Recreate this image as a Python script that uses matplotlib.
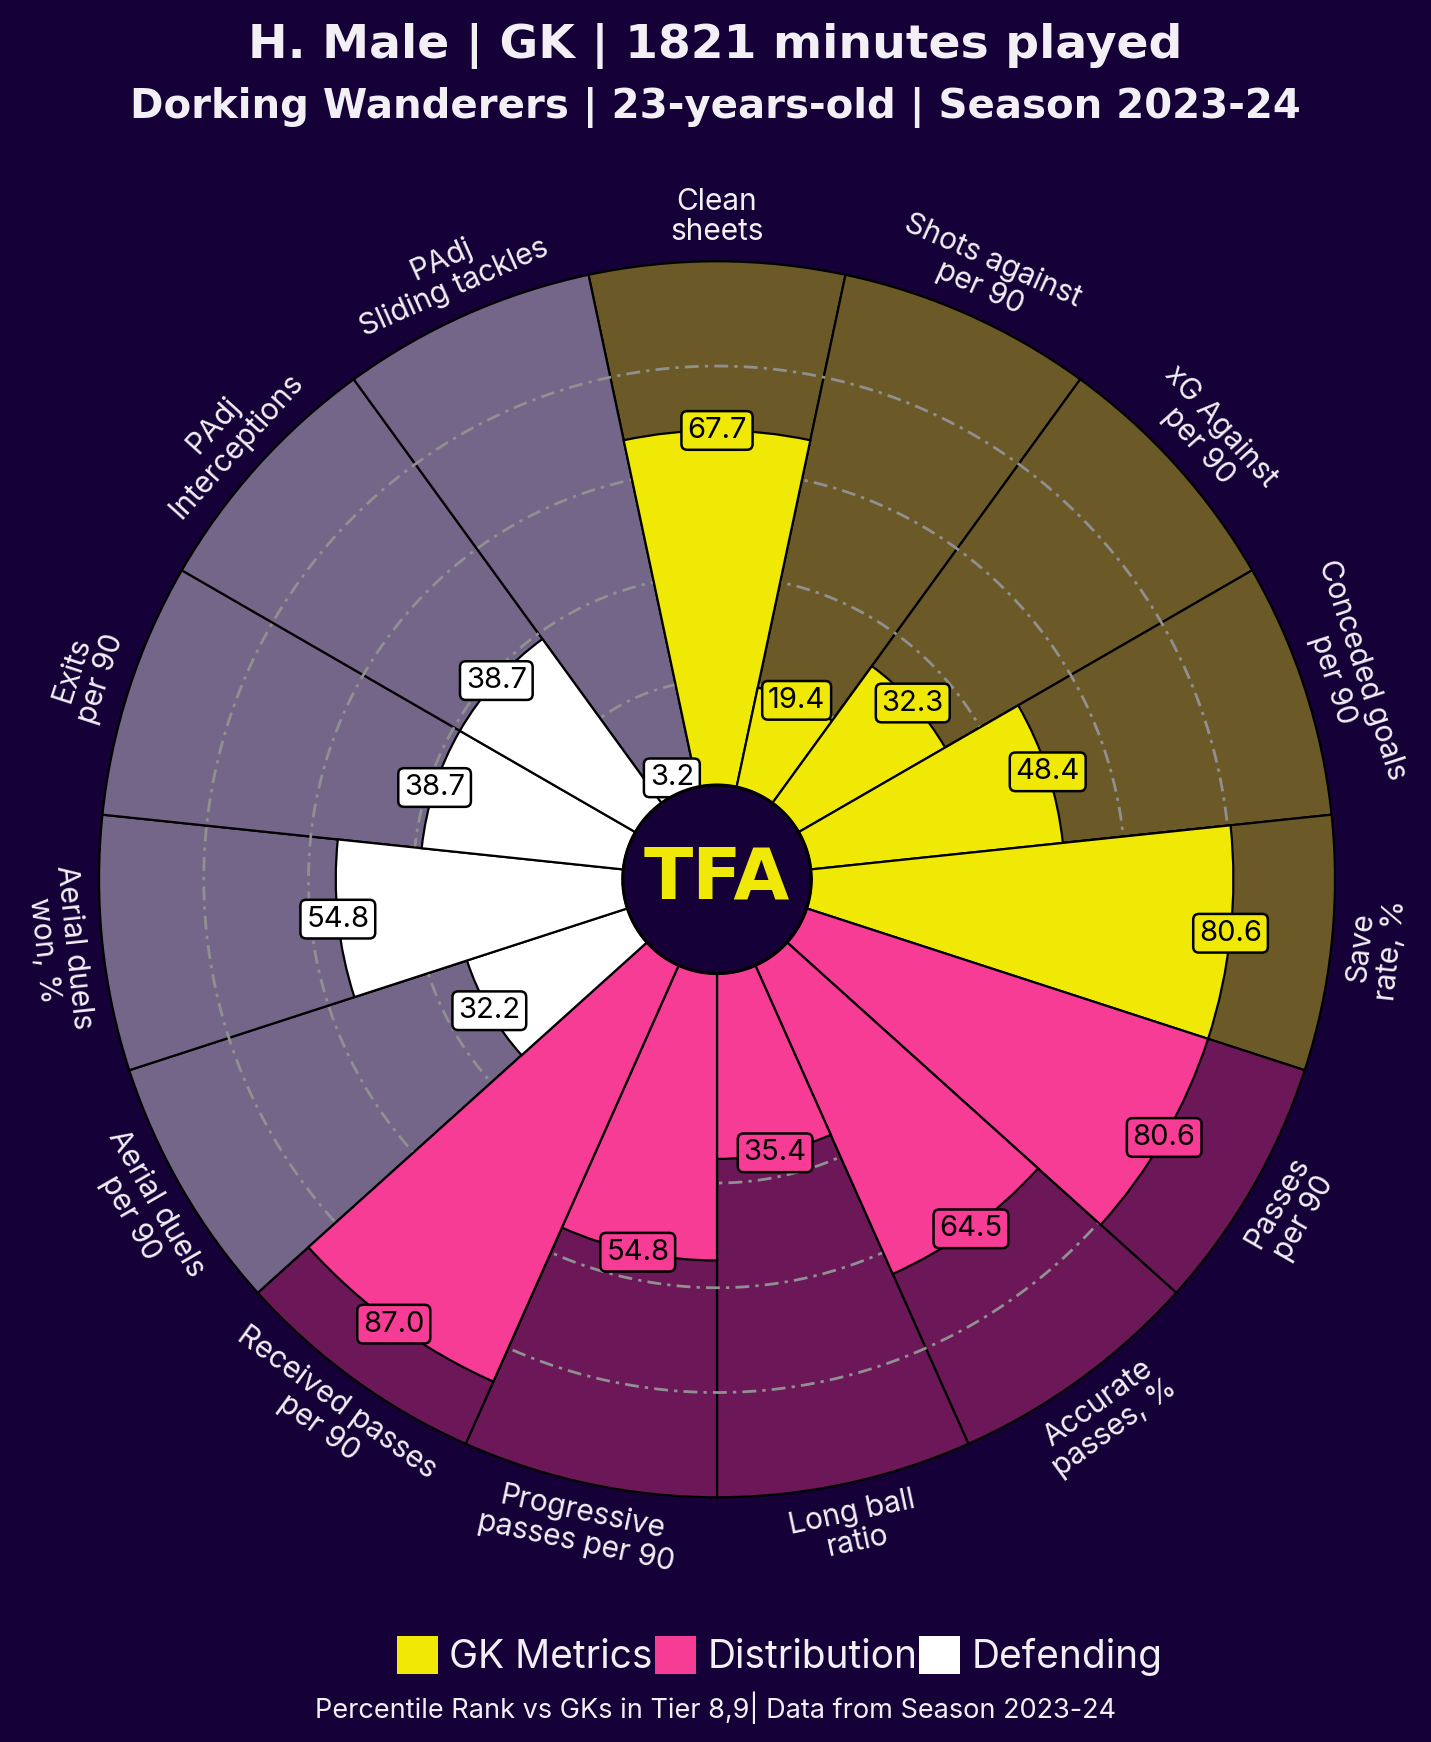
import matplotlib.pyplot as plt
import numpy as np
from matplotlib.patches import Patch

# --- data ---
params = ["Clean\nsheets", "Shots against\nper 90", "xG Against\nper 90", "Conceded goals\nper 90",
          "Save\nrate, %", "Passes\nper 90", "Accurate\npasses, %", "Long ball\nratio",
          "Progressive\npasses per 90", "Received passes\nper 90", "Aerial duels\nper 90",
          "Aerial duels\nwon, %", "Exits\nper 90", "PAdj\nInterceptions", "PAdj\nSliding tackles"]
values = [67.7, 19.4, 32.3, 48.4, 80.6, 80.6, 64.5, 35.4, 54.8, 87.0, 32.2, 54.8, 38.7, 38.7, 3.2]
groups = ["GK Metrics"] * 5 + ["Distribution"] * 5 + ["Defending"] * 5
group_names = ["GK Metrics", "Distribution", "Defending"]

BG = "#150038"
TXT = "#f2eff5"
slice_col = {"GK Metrics": "#f0e906", "Distribution": "#f63c95", "Defending": "#ffffff"}
back_col = {"GK Metrics": "#6b5a28", "Distribution": "#6c1858", "Defending": "#736689"}
FONT = "Inter"

n = len(params)
width = 2 * np.pi / n
theta = np.deg2rad(90 - 360 / n * np.arange(n))
inner = 18

fig = plt.figure(figsize=(14.31, 17.42), dpi=100, facecolor=BG)
ax = fig.add_axes([0.0692, 0.1405, 0.8637, 0.7095], projection="polar")
ax.set_facecolor(BG)
ax.set_ylim(-inner, 100)
ax.set_axis_off()

# background slices
ax.bar(theta, 100, width=width, bottom=0, color=[back_col[g] for g in groups],
       edgecolor="black", linewidth=1.6, zorder=1, clip_on=False)

# dash-dot grid rings
t = np.linspace(0, 2 * np.pi, 720)
for r in [20, 40, 60, 80]:
    ax.plot(t, np.full_like(t, r), color="#909090", lw=2.0, ls=(0, (5, 2.2, 1.2, 2.2)), zorder=2)

# value slices
ax.bar(theta, values, width=width, bottom=0, color=[slice_col[g] for g in groups],
       edgecolor="black", linewidth=1.6, zorder=3, clip_on=False)

# value boxes
for th, v, g in zip(theta, values, groups):
    ax.text(th, v, f"{v:.1f}", ha="center", va="center", fontsize=21, family=FONT, color="black",
            zorder=6, bbox=dict(boxstyle="round,pad=0.2", fc=slice_col[g], ec="black", lw=1.8))

# parameter labels
for th, lab in zip(theta, params):
    deg = np.rad2deg(th) % 360
    rot = deg - 90 if deg <= 180 else deg + 90
    ax.text(th, 108.5, lab, ha="center", va="center", rotation=rot, rotation_mode="anchor",
            fontsize=21.5, family=FONT, color=TXT, linespacing=1.1, multialignment="center")

# centre circle with logo text
ax.fill(t, np.zeros_like(t), color=BG, zorder=7, clip_on=False)
ax.plot(t, np.zeros_like(t), color="black", lw=2.2, zorder=8)
ax.text(0, -inner, "TFA", ha="center", va="center", fontsize=52, fontweight="black",
        family="DejaVu Sans", color="#f0e906", zorder=9)

# titles
fig.text(0.5, 1 - 46 / 1742, "H. Male | GK | 1821 minutes played", ha="center", va="center",
         fontsize=34, fontweight="bold", family="DejaVu Sans", color=TXT)
fig.text(0.5, 1 - 107 / 1742, "Dorking Wanderers | 23-years-old | Season 2023-24", ha="center",
         va="center", fontsize=29, fontweight="bold", family="DejaVu Sans", color=TXT)

# legend
handles = [Patch(facecolor=slice_col[g], edgecolor="none") for g in group_names]
fig.legend(handles, group_names, loc="center", bbox_to_anchor=(0.545, 1 - 1656 / 1742), ncol=3,
           frameon=False, handlelength=1.05, handleheight=1.15, handletextpad=0.3,
           columnspacing=0.05, labelcolor=TXT, prop={"family": FONT, "size": 28})

fig.text(0.5, 1 - 1708 / 1742, "Percentile Rank vs GKs in Tier 8,9| Data from Season 2023-24",
         ha="center", va="center", fontsize=19.5, family=FONT, color=TXT)

fig.savefig("out.png", dpi=100, facecolor=BG)
